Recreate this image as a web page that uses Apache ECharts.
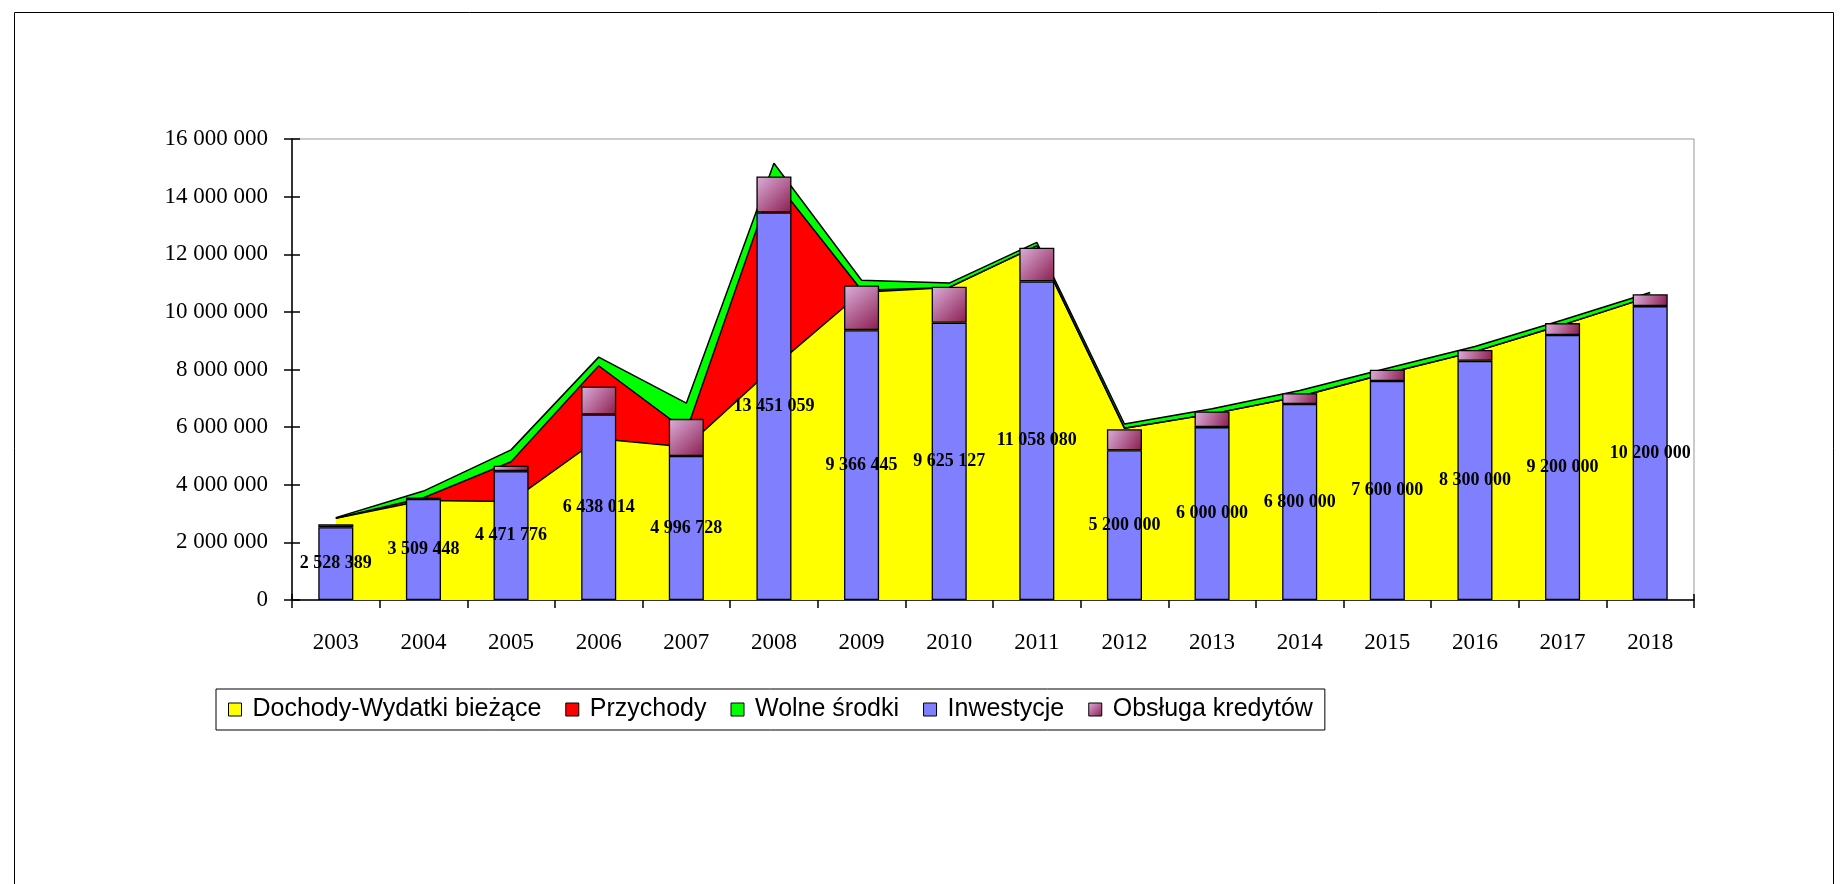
<!DOCTYPE html>
<html>
<head>
<meta charset="utf-8">
<script src="https://cdn.jsdelivr.net/npm/echarts@6/dist/echarts.min.js"></script>
<style>html,body{margin:0;padding:0;background:#fff;}#c{width:1843px;height:884px;}</style>
</head>
<body>
<div id="c"></div>
<script>
var years = ['2003','2004','2005','2006','2007','2008','2009','2010','2011','2012','2013','2014','2015','2016','2017','2018'];
var dochody = [2840000, 3450000, 3420000, 5600000, 5310000, 8090000, 10680000, 10850000, 12290000, 5960000, 6460000, 7060000, 7870000, 8620000, 9550000, 10530000];
var przychody = [0, 100000, 1380000, 2530000, 550000, 6510000, 70000, 0, 0, 0, 0, 0, 0, 0, 0, 0];
var wolne = [20000, 230000, 410000, 300000, 970000, 560000, 350000, 150000, 120000, 150000, 180000, 210000, 170000, 180000, 170000, 140000];
var inwestycje = [2528389, 3509448, 4471776, 6438014, 4996728, 13451059, 9366445, 9625127, 11058080, 5200000, 6000000, 6800000, 7600000, 8300000, 9200000, 10200000];
var obsluga = [100000, 50000, 190000, 970000, 1290000, 1250000, 1550000, 1250000, 1170000, 730000, 540000, 380000, 390000, 380000, 410000, 410000];
var names = ['Dochody-Wydatki bieżące', 'Przychody', 'Wolne środki', 'Inwestycje', 'Obsługa kredytów'];

function fmt(v) { return String(Math.round(v)).replace(/\B(?=(\d{3})+(?!\d))/g, ' '); }

var chart = echarts.init(document.getElementById('c'));
var serif = 'Liberation Serif';
function areaSeries(name, data, color) {
  return {
    name: name, type: 'line', stack: 'area', data: data,
    showSymbol: false, symbol: 'none', smooth: false,
    itemStyle: { color: color },
    lineStyle: { color: '#000', width: 1.5 },
    areaStyle: { color: color, opacity: 1 },
    z: 2
  };
}
chart.setOption({
  animation: false,
  graphic: [{
    type: 'rect', left: 12, top: 10, silent: true,
    shape: { x: 0, y: 0, width: 1819, height: 900 },
    style: { fill: 'none', stroke: '#000', lineWidth: 1 }
  }],
  grid: { left: 292, right: 149, top: 139, bottom: 284, show: true, borderColor: '#999', borderWidth: 1, backgroundColor: 'transparent' },
  legend: {
    left: 216, top: 689,
    data: names,
    icon: 'rect', itemWidth: 13, itemHeight: 13, itemGap: 24,
    padding: [8, 12, 8, 12],
    borderColor: '#000', borderWidth: 1,
    itemStyle: { borderColor: '#000', borderWidth: 1 },
    textStyle: { fontFamily: 'Liberation Sans', fontSize: 25, color: '#000', padding: [0, 0, 0, 6] }
  },
  xAxis: [{
    type: 'category', data: years, boundaryGap: true,
    axisLine: { lineStyle: { color: '#000', width: 1.5 } },
    axisTick: { show: true, length: 8, lineStyle: { color: '#000', width: 1.5 } },
    axisLabel: { fontFamily: serif, fontSize: 23, color: '#000', margin: 31 },
    splitLine: { show: false }
  }, {
    type: 'category', data: years, boundaryGap: true, position: 'bottom',
    axisLine: { show: false },
    axisTick: { show: true, inside: true, length: 6, lineStyle: { color: '#000', width: 1.5 } },
    axisLabel: { show: false }, splitLine: { show: false }
  }],
  yAxis: [{
    type: 'value', min: 0, max: 16000000, interval: 2000000,
    axisLine: { show: true, lineStyle: { color: '#000', width: 1.5 } },
    axisTick: { show: true, length: 8, lineStyle: { color: '#000', width: 1.5 } },
    axisLabel: { fontFamily: serif, fontSize: 23, color: '#000', margin: 24, formatter: fmt },
    splitLine: { show: false }
  }, {
    type: 'value', min: 0, max: 16000000, interval: 2000000, position: 'left',
    axisLine: { show: false },
    axisTick: { show: true, inside: true, length: 8, lineStyle: { color: '#000', width: 1.5 } },
    axisLabel: { show: false }, splitLine: { show: false }
  }],
  series: [
    areaSeries(names[0], dochody, '#FFFF00'),
    areaSeries(names[1], przychody, '#FF0000'),
    areaSeries(names[2], wolne, '#00FF00'),
    {
      name: names[3], type: 'bar', stack: 'bar', data: inwestycje, barWidth: '40%',
      itemStyle: { color: '#8080FF', borderColor: '#000', borderWidth: 1.3 },
      label: { show: true, position: 'inside', formatter: function (p) { return fmt(p.value); },
        fontFamily: serif, fontWeight: 'bold', fontSize: 18, color: '#000' },
      z: 3
    },
    {
      name: names[4], type: 'bar', stack: 'bar', data: obsluga, barWidth: '40%',
      itemStyle: {
        color: new echarts.graphic.LinearGradient(0, 0, 1, 1, [
          { offset: 0, color: '#DDB0DD' }, { offset: 1, color: '#8A1C4E' }
        ]),
        borderColor: '#000', borderWidth: 1.3
      },
      z: 3
    }
  ]
});
</script>
</body>
</html>
